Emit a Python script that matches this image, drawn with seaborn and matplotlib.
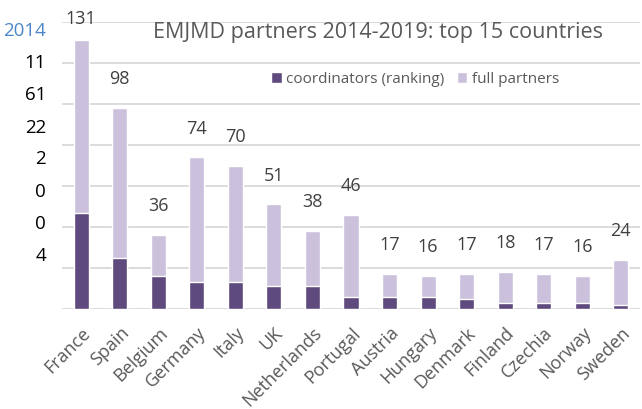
import numpy as np
import pandas as pd
import matplotlib.pyplot as plt
import seaborn as sns

countries = ["France", "Spain", "Belgium", "Germany", "Italy", "UK", "Netherlands",
             "Portugal", "Austria", "Hungary", "Denmark", "Finland", "Czechia",
             "Norway", "Sweden"]
totals = [131, 98, 36, 74, 70, 51, 38, 46, 17, 16, 17, 18, 17, 16, 24]
coordinators = [47, 25, 16, 13, 13, 11, 11, 6, 6, 6, 5, 3, 3, 3, 2]
# stray labels down the left edge of the original chart
side_labels = ["2014", "11", "61", "22", "2", "0", "0", "4"]

dark = "#5e4a7c"
light = "#cbc1dc"
grey = "#595959"

sns.set_theme(style="white")
plt.rcParams["font.family"] = ["Open Sans", "DejaVu Sans"]

df = pd.DataFrame({"country": countries, "total": totals, "coord": coordinators})

fig = plt.figure(figsize=(6.42, 4.10), dpi=100)
ax = fig.add_axes([62 / 642, 100 / 410, 578 / 642, 287 / 410])

sns.barplot(data=df, x="country", y="total", color=light, width=0.39,
            saturation=1, ax=ax, label="full partners", zorder=3)
sns.barplot(data=df, x="country", y="coord", color=dark, width=0.39,
            saturation=1, ax=ax, label="coordinators (ranking)", zorder=3)

ax.set_ylim(0, 140)
ax.set_xlim(-0.5, len(countries) - 0.5)
ax.set_yticks(np.arange(0, 141, 20))
ax.yaxis.grid(True, color="#d9d9d9", linewidth=1.3, zorder=0)
ax.set_yticklabels([])
ax.tick_params(axis="y", length=0)
ax.tick_params(axis="x", length=0, pad=10)
for s in ax.spines.values():
    s.set_visible(False)
ax.set_xlabel("")
ax.set_ylabel("")
ax.set_xticks(range(len(countries)))
ax.set_xticklabels(countries, rotation=45, ha="right", rotation_mode="anchor",
                   fontsize=13, color=grey)

for i, t in enumerate(totals):
    ax.text(i, min(t + 14.5, 142), str(t), ha="center", va="center",
            fontsize=13, color="#404040", clip_on=False)

ax.text(0.547, 0.966, "EMJMD partners 2014-2019: top 15 countries",
        transform=ax.transAxes, ha="center", va="center", fontsize=15.5, color=grey)

h, l = ax.get_legend_handles_labels()
leg = ax.legend(h[::-1], l[::-1], loc="center", bbox_to_anchor=(415 / 642, 330 / 410),
                bbox_transform=fig.transFigure, ncol=2, frameon=False, fontsize=11,
                handlelength=0.7, handleheight=0.7, handletextpad=0.3, columnspacing=0.8)
for txt in leg.get_texts():
    txt.set_color(grey)

ys = [31, 63, 95, 128, 159, 192, 224, 256]
for lab, y in zip(side_labels, ys):
    fig.text(46 / 642, 1 - y / 410, lab, ha="right", va="center", fontsize=13.5,
             color="#4a86c8" if lab == "2014" else "black")

fig.savefig("out.png", dpi=100)
